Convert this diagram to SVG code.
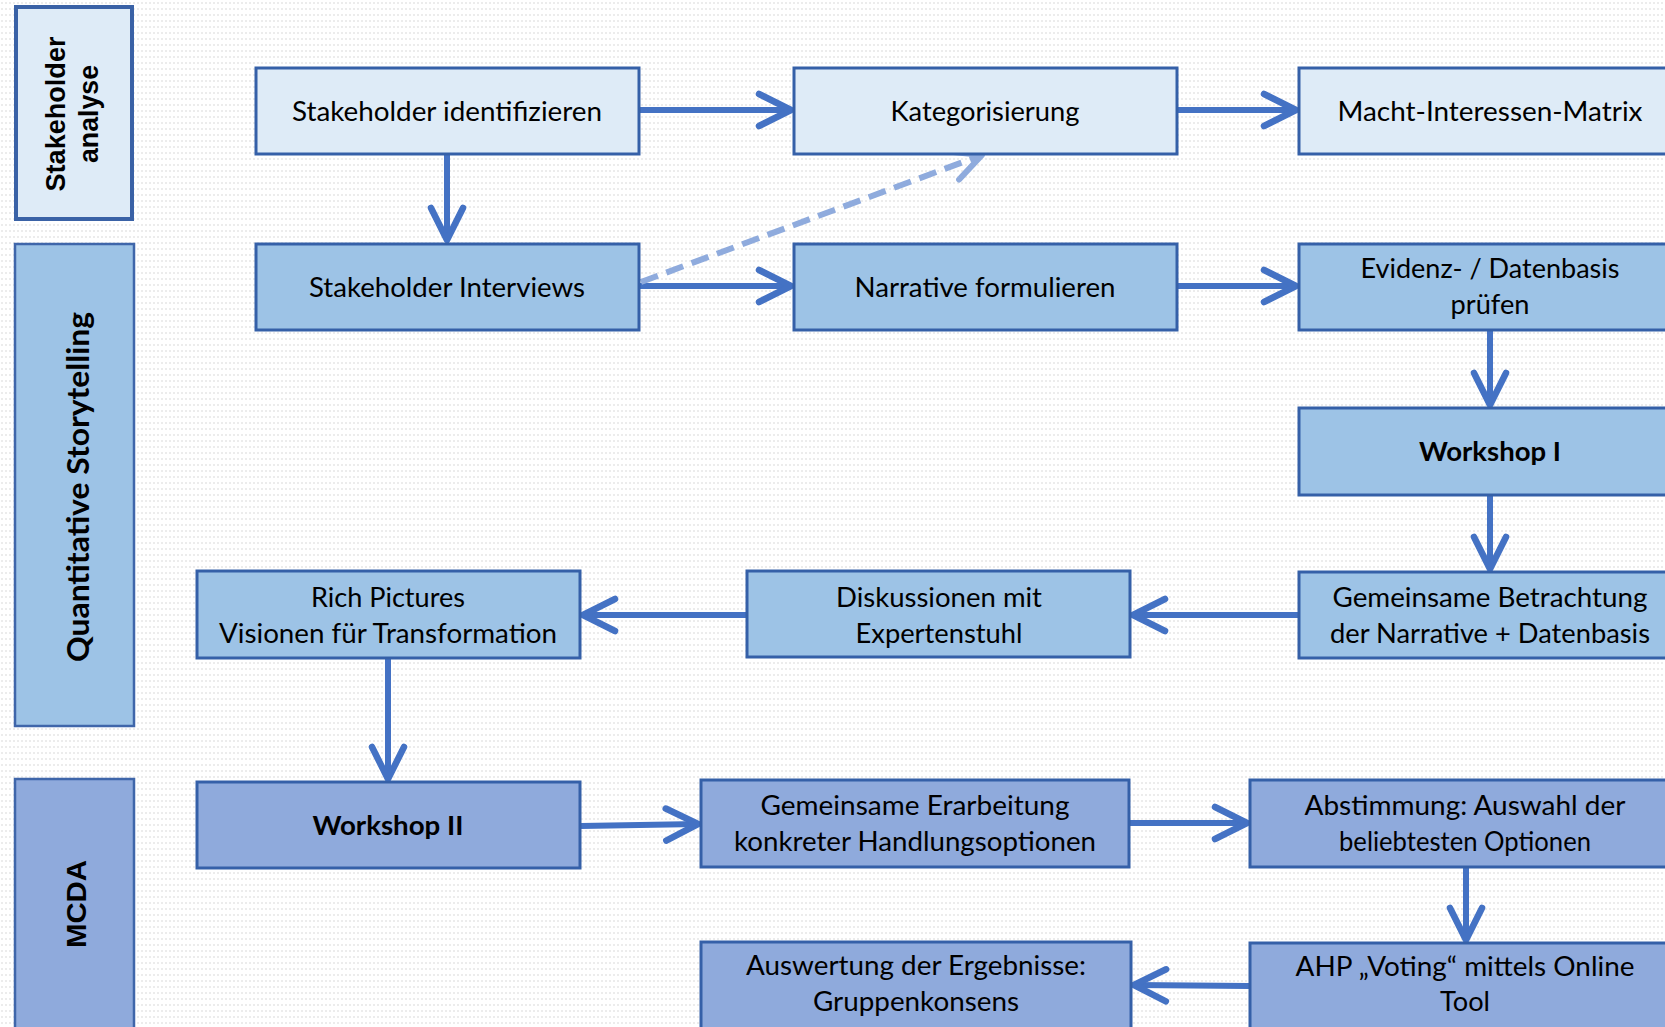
<svg xmlns="http://www.w3.org/2000/svg" width="1665" height="1027" viewBox="0 0 1665 1027">
<defs>
<pattern id="bg" width="4" height="6" patternUnits="userSpaceOnUse"><rect width="4" height="6" fill="#ffffff"/><circle cx="2" cy="3" r="0.9" fill="#e4e4e4"/></pattern>
<marker id="ah" markerUnits="userSpaceOnUse" markerWidth="44" markerHeight="40" viewBox="-40 -20 44 40" refX="0" refY="0" orient="auto" overflow="visible"><path d="M-32,-16 L0,0 L-32,16" fill="none" stroke="#4472C4" stroke-width="6.5" stroke-linecap="round" stroke-linejoin="round"/></marker>
<marker id="ahl" markerUnits="userSpaceOnUse" markerWidth="44" markerHeight="40" viewBox="-40 -20 44 40" refX="0" refY="0" orient="auto" overflow="visible"><path d="M-30,-15 L0,0 L-30,15" fill="none" stroke="#8FABDD" stroke-width="6" stroke-linecap="round" stroke-linejoin="round"/></marker>
</defs>
<style>
.box{stroke:#3560A8;stroke-width:3}
.c1{fill:#DEEBF7}
.c2{fill:#9DC3E6}
.c3{fill:#8FAADC}
.lane{stroke:#3F66AA;stroke-width:2.5}
.t{font-family:Lato,"Liberation Sans",sans-serif;font-size:27px;fill:#000;text-anchor:middle}
.b{font-weight:bold}
.lt{font-family:"Liberation Sans",Arial,sans-serif;font-weight:bold;font-size:28px;fill:#000;text-anchor:middle}
.lq{font-family:Lato,"Liberation Sans",sans-serif;font-weight:bold;font-size:31px;fill:#000;text-anchor:middle}
.con{fill:none;stroke:#4472C4;stroke-width:6;marker-end:url(#ah)}
.dash{fill:none;stroke:#8FABDD;stroke-width:6;stroke-dasharray:18 9;marker-end:url(#ahl)}
</style>
<rect width="1665" height="1027" fill="url(#bg)"/>

<g id="lane-stakeholderanalyse">
<rect x="16" y="7" width="116" height="212" class="c1" stroke="#3A62A6" stroke-width="4"/>
<g transform="translate(65,114) rotate(-90)"><text class="lt" x="0" y="0" textLength="155" lengthAdjust="spacingAndGlyphs">Stakeholder</text><text class="lt" x="0" y="33" textLength="98" lengthAdjust="spacingAndGlyphs">analyse</text></g>
</g>
<g id="lane-storytelling">
<rect x="15" y="244" width="119" height="482" class="c2 lane"/>
<g transform="translate(89,487) rotate(-90)"><text class="lq" x="0" y="0" textLength="350" lengthAdjust="spacingAndGlyphs">Quantitative Storytelling</text></g>
</g>
<g id="lane-mcda">
<rect x="15" y="779" width="119" height="270" class="c3 lane"/>
<g transform="translate(86,904) rotate(-90)"><text class="lt" x="0" y="0" textLength="88" lengthAdjust="spacingAndGlyphs">MCDA</text></g>
</g>

<g id="connectors">
<path class="con" d="M639,110 L791,110"/>
<path class="con" d="M1177,110 L1296,110"/>
<path class="con" d="M447,155 L447,240"/>
<path class="con" d="M639,286 L791,286"/>
<path class="con" d="M1177,286 L1296,286"/>
<path class="dash" d="M641,282 L982,155"/>
<path class="con" d="M1490,331 L1490,405"/>
<path class="con" d="M1490,496 L1490,569"/>
<path class="con" d="M1298,615 L1133,615"/>
<path class="con" d="M746,615 L583,615"/>
<path class="con" d="M388,659 L388,779"/>
<path class="con" d="M581,826 L698,824"/>
<path class="con" d="M1130,823 L1247,823"/>
<path class="con" d="M1466,868 L1466,940"/>
<path class="con" d="M1249,986 L1134,985"/>
</g>

<g id="n-stakeholder-identifizieren">
<rect x="256" y="68" width="383" height="86" class="box c1"/>
<text class="t" x="447" y="121" textLength="310" lengthAdjust="spacingAndGlyphs">Stakeholder identifizieren</text>
</g>
<g id="n-kategorisierung">
<rect x="794" y="68" width="383" height="86" class="box c1"/>
<text class="t" x="985" y="121" textLength="189" lengthAdjust="spacingAndGlyphs">Kategorisierung</text>
</g>
<g id="n-macht-interessen-matrix">
<rect x="1299" y="68" width="383" height="86" class="box c1"/>
<text class="t" x="1490" y="121" textLength="305" lengthAdjust="spacingAndGlyphs">Macht-Interessen-Matrix</text>
</g>
<g id="n-stakeholder-interviews">
<rect x="256" y="244" width="383" height="86" class="box c2"/>
<text class="t" x="447" y="297" textLength="276" lengthAdjust="spacingAndGlyphs">Stakeholder Interviews</text>
</g>
<g id="n-narrative-formulieren">
<rect x="794" y="244" width="383" height="86" class="box c2"/>
<text class="t" x="985" y="297" textLength="261" lengthAdjust="spacingAndGlyphs">Narrative formulieren</text>
</g>
<g id="n-evidenz">
<rect x="1299" y="244" width="383" height="86" class="box c2"/>
<text class="t" x="1490" y="278" textLength="259" lengthAdjust="spacingAndGlyphs">Evidenz- / Datenbasis</text>
<text class="t" x="1490" y="314" textLength="79" lengthAdjust="spacingAndGlyphs">prüfen</text>
</g>
<g id="n-workshop-1">
<rect x="1299" y="408" width="383" height="87" class="box c2"/>
<text class="t b" x="1490" y="461" textLength="142" lengthAdjust="spacingAndGlyphs">Workshop I</text>
</g>
<g id="n-gemeinsame-betrachtung">
<rect x="1299" y="572" width="383" height="86" class="box c2"/>
<text class="t" x="1490" y="607" textLength="315" lengthAdjust="spacingAndGlyphs">Gemeinsame Betrachtung</text>
<text class="t" x="1490" y="643" textLength="320" lengthAdjust="spacingAndGlyphs">der Narrative + Datenbasis</text>
</g>
<g id="n-diskussionen">
<rect x="747" y="571" width="383" height="86" class="box c2"/>
<text class="t" x="939" y="607" textLength="206" lengthAdjust="spacingAndGlyphs">Diskussionen mit</text>
<text class="t" x="939" y="643" textLength="167" lengthAdjust="spacingAndGlyphs">Expertenstuhl</text>
</g>
<g id="n-rich-pictures">
<rect x="197" y="571" width="383" height="87" class="box c2"/>
<text class="t" x="388" y="607" textLength="154" lengthAdjust="spacingAndGlyphs">Rich Pictures</text>
<text class="t" x="388" y="643" textLength="338" lengthAdjust="spacingAndGlyphs">Visionen für Transformation</text>
</g>
<g id="n-workshop-2">
<rect x="197" y="782" width="383" height="86" class="box c3"/>
<text class="t b" x="388" y="835" textLength="151" lengthAdjust="spacingAndGlyphs">Workshop II</text>
</g>
<g id="n-gemeinsame-erarbeitung">
<rect x="701" y="780" width="428" height="87" class="box c3"/>
<text class="t" x="915" y="815" textLength="309" lengthAdjust="spacingAndGlyphs">Gemeinsame Erarbeitung</text>
<text class="t" x="915" y="851" textLength="362" lengthAdjust="spacingAndGlyphs">konkreter Handlungsoptionen</text>
</g>
<g id="n-abstimmung">
<rect x="1250" y="780" width="430" height="87" class="box c3"/>
<text class="t" x="1465" y="815" textLength="321" lengthAdjust="spacingAndGlyphs">Abstimmung: Auswahl der</text>
<text class="t" x="1465" y="851" textLength="252" lengthAdjust="spacingAndGlyphs">beliebtesten Optionen</text>
</g>
<g id="n-auswertung">
<rect x="701" y="942" width="430" height="87" class="box c3"/>
<text class="t" x="916" y="975" textLength="340" lengthAdjust="spacingAndGlyphs">Auswertung der Ergebnisse:</text>
<text class="t" x="916" y="1011" textLength="206" lengthAdjust="spacingAndGlyphs">Gruppenkonsens</text>
</g>
<g id="n-ahp">
<rect x="1250" y="943" width="430" height="87" class="box c3"/>
<text class="t" x="1465" y="976" textLength="339" lengthAdjust="spacingAndGlyphs">AHP „Voting“ mittels Online</text>
<text class="t" x="1465" y="1011" textLength="50" lengthAdjust="spacingAndGlyphs">Tool</text>
</g>
</svg>
